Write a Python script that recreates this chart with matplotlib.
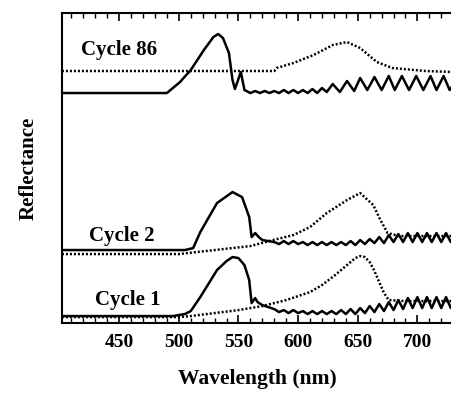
import matplotlib
matplotlib.use('Agg')
import matplotlib.pyplot as plt
from matplotlib.ticker import MultipleLocator

plt.rcParams['font.family'] = ['Liberation Serif', 'DejaVu Serif']
plt.rcParams['font.weight'] = 'bold'

# Cycle 1, solid trace
c1_solid_wl = [402, 495, 505, 510, 518, 532, 540, 545, 550, 555, 559, 561, 564, 566, 570, 575, 580,
               584, 588, 592, 596, 600, 604, 608, 612, 616, 620, 624, 628, 632, 636, 640, 644, 648,
               652, 656, 660, 664, 668, 672, 676, 680, 684, 688, 692, 696, 700, 704, 708, 712, 716,
               720, 724, 728, 730]
c1_solid_r = [7, 7, 9, 12, 26, 53, 62, 66, 65, 58, 43, 20, 25, 21, 18, 16, 14,
              11, 13, 10, 13, 10, 12, 9, 12, 9, 12, 9, 12, 9, 13, 9, 14, 9,
              15, 10, 17, 11, 19, 12, 21, 13, 23, 14, 25, 15, 26, 15, 26, 15, 26,
              15, 26, 15, 21]

# Cycle 1, dotted trace
c1_dot_wl = [402, 500, 510, 530, 550, 570, 590, 600, 610, 620, 630, 640, 648, 652, 656, 660, 664,
             668, 672, 676, 690, 710, 730]
c1_dot_r = [6, 6, 7, 10, 13, 17, 23, 27, 31, 38, 47, 57, 65, 67, 66, 61, 52,
            41, 30, 23, 22, 22, 22]

# Cycle 2, solid trace
c2_solid_wl = [402, 505, 512, 518, 532, 545, 553, 559, 561, 564, 567, 570, 580,
               584, 588, 592, 596, 600, 604, 608, 612, 616, 620, 624, 628, 632, 636, 640, 644, 648,
               652, 656, 660, 664, 668, 672, 676, 680, 684, 688, 692, 696, 700, 704, 708, 712, 716,
               720, 724, 728, 730]
c2_solid_r = [73, 73, 75, 91, 120, 131, 126, 106, 86, 90, 86, 83, 81,
              79, 82, 79, 82, 79, 81, 78, 81, 78, 81, 78, 81, 78, 81, 78, 82, 78,
              83, 79, 84, 80, 86, 80, 88, 81, 89, 81, 90, 81, 90, 81, 90, 81, 90,
              81, 90, 81, 85]

# Cycle 2, dotted trace
c2_dot_wl = [402, 500, 530, 560, 579, 596, 610, 624, 641, 652, 663, 669, 675, 685, 700, 730]
c2_dot_r = [69, 69, 73, 77, 83, 88, 96, 110, 123, 130, 118, 103, 90, 87, 87, 87]

# Cycle 86, solid trace
c86_solid_wl = [402, 490, 493, 501, 510, 521, 529, 533, 537, 542, 545, 547, 552, 555, 560,
                564, 568, 572, 576, 580, 584, 588, 592, 596, 600, 604, 608, 612, 616, 620, 624,
                629, 635, 641, 647, 652, 658, 664, 670, 676, 681, 687, 693, 699, 705, 711, 716,
                722, 727, 730]
c86_solid_r = [230, 230, 233, 241, 253, 273, 286, 289, 285, 270, 243, 234, 251, 233, 230,
               232, 230, 232, 230, 232, 230, 233, 230, 233, 230, 233, 230, 234, 230, 235, 231,
               239, 231, 242, 232, 245, 233, 246, 233, 247, 233, 247, 233, 247, 233, 247, 233,
               247, 233, 238]

# Cycle 86, dotted trace
c86_dot_wl = [402, 580, 582, 596, 613, 629, 641, 652, 666, 679, 707, 730]
c86_dot_r = [252, 252, 255, 260, 268, 278, 281, 275, 261, 255, 252, 251]

labels = ['Cycle 86', 'Cycle 2', 'Cycle 1']
label_x = [450, 452, 457]
label_y = [273, 87, 23]

fig = plt.figure(figsize=(4.52, 3.94), dpi=100)
ax = fig.add_axes([0.137, 0.180, 0.863, 0.787])

lw = 1.8
for wl, r in [(c1_solid_wl, c1_solid_r), (c2_solid_wl, c2_solid_r), (c86_solid_wl, c86_solid_r)]:
    ax.plot(wl, r, color='black', linewidth=lw, solid_joinstyle='round')
for wl, r in [(c1_dot_wl, c1_dot_r), (c2_dot_wl, c2_dot_r), (c86_dot_wl, c86_dot_r)]:
    ax.plot(wl, r, color='black', linewidth=1.8, linestyle=(0, (0.8, 0.8)))

for t, x, y in zip(labels, label_x, label_y):
    ax.text(x, y, t, fontsize=15, fontweight='bold', ha='center', va='center')

ax.set_xlim(402, 729)
ax.set_ylim(0, 310)
ax.xaxis.set_major_locator(MultipleLocator(50))
ax.xaxis.set_minor_locator(MultipleLocator(10))
ax.tick_params(axis='x', which='major', direction='in', length=6, width=1.2, top=True,
               labelsize=14, pad=8)
ax.tick_params(axis='x', which='minor', direction='in', length=3.5, width=1.0, top=True)
ax.set_yticks([])
for lab in ax.get_xticklabels():
    lab.set_fontweight('bold')
ax.spines['right'].set_visible(False)
for s in ['left', 'top', 'bottom']:
    ax.spines[s].set_linewidth(1.5)

ax.set_xlabel('Wavelength (nm)', fontsize=15.5, fontweight='bold', labelpad=13)
ax.set_ylabel('Reflectance', fontsize=15, fontweight='bold', labelpad=17)

fig.savefig('out.png', dpi=100)
